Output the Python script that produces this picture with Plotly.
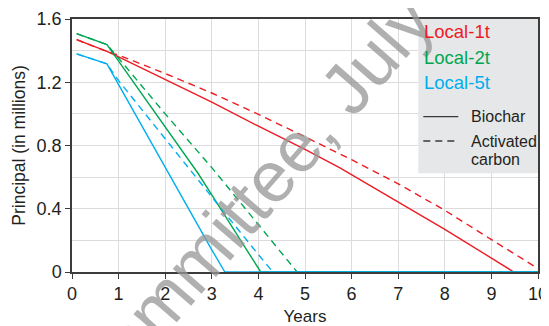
import plotly.graph_objects as go

# ---- data ----
x_1t_bio = [0.1, 0.75, 1, 2, 3, 4, 5, 5.75, 6, 7, 8, 9, 9.48, 10]
y_1t_bio = [1.469, 1.395, 1.36, 1.215, 1.075, 0.922, 0.775, 0.658, 0.615, 0.447, 0.27, 0.088, 0, 0]
x_1t_ac = [0.1, 0.75, 1, 2, 3, 4, 5, 6, 7, 8, 9, 10]
y_1t_ac = [1.469, 1.395, 1.372, 1.255, 1.132, 0.997, 0.855, 0.71, 0.558, 0.39, 0.205, 0.022]
x_2t_bio = [0.1, 0.75, 1, 2, 2.7, 3, 4.05, 10]
y_2t_bio = [1.507, 1.438, 1.334, 0.92, 0.626, 0.487, 0, 0]
x_2t_ac = [0.1, 0.75, 1, 2, 3, 4, 4.83, 10]
y_2t_ac = [1.507, 1.438, 1.352, 1.0, 0.66, 0.3, 0, 0]
x_5t_bio = [0.1, 0.75, 1, 2, 3, 3.28, 10]
y_5t_bio = [1.379, 1.316, 1.185, 0.66, 0.14, 0, 0]
x_5t_ac = [0.1, 0.75, 1, 2, 3, 4, 4.31, 10]
y_5t_ac = [1.379, 1.316, 1.21, 0.84, 0.475, 0.11, 0, 0]

series_names = ["Local-1t", "Local-2t", "Local-5t"]
series_colors = ["#ED1C24", "#00A651", "#00AEEF"]
type_names = ["Biochar", "Activated", "carbon"]
x_ticks = [0, 1, 2, 3, 4, 5, 6, 7, 8, 9, 10]
y_ticks = [0, 0.4, 0.8, 1.2, 1.6]
y_tick_labels = ["0", "0.4", "0.8", "1.2", "1.6"]
watermark = "Committee, July"

FONT = "Liberation Sans, Arial, sans-serif"
TXT = "#231f20"

fig = go.Figure()
data = [
    (x_1t_bio, y_1t_bio, x_1t_ac, y_1t_ac),
    (x_2t_bio, y_2t_bio, x_2t_ac, y_2t_ac),
    (x_5t_bio, y_5t_bio, x_5t_ac, y_5t_ac),
]
for (xb, yb, xa, ya), name, col in zip(data, series_names, series_colors):
    fig.add_trace(go.Scatter(x=xb, y=yb, mode="lines", name=name + " Biochar",
                             line=dict(color=col, width=1.4), showlegend=False))
    fig.add_trace(go.Scatter(x=xa, y=ya, mode="lines", name=name + " Activated carbon",
                             line=dict(color=col, width=1.4, dash="7px,5px"), showlegend=False))

# page has an 8px body margin: figure is offset by (8, 8) in the window
OFF = 8
W, H = 549 - OFF, 326 - OFF
# plot-area edges in window pixels
L, R, T, B = 72, 538, 19, 272
def px(xp):
    return (xp - L) / (R - L)
def py(yp):
    return (B - yp) / (B - T)

shapes = [
    dict(type="rect", xref="paper", yref="paper", x0=px(418.3), x1=1, y0=py(173.3), y1=1,
         fillcolor="#e6e7e8", line=dict(width=0), layer="above"),
    dict(type="line", xref="paper", yref="paper", x0=px(423.3), x1=px(458.3), y0=py(116.7), y1=py(116.7),
         line=dict(color="#3a3a3a", width=1.3), layer="above"),
    dict(type="line", xref="paper", yref="paper", x0=px(423.3), x1=px(458.3), y0=py(141), y1=py(141),
         line=dict(color="#3a3a3a", width=1.3, dash="7px,5px"), layer="above"),
]

annotations = [dict(text=watermark, xref="paper", yref="paper", x=px(249), y=py(201),
                    xanchor="center", yanchor="middle", showarrow=False, textangle=-49,
                    font=dict(family=FONT, size=72, color="rgba(150,150,150,0.75)"))]
for name, col, yc in zip(series_names, series_colors, [31.7, 57, 82.5]):
    annotations.append(dict(text=name, xref="paper", yref="paper", x=px(422.3), y=py(yc),
                            xanchor="left", yanchor="middle", showarrow=False,
                            font=dict(family=FONT, size=18.5, color=col)))
for txt, yc in zip(type_names, [116, 141, 159.5]):
    annotations.append(dict(text=txt, xref="paper", yref="paper", x=px(469), y=py(yc),
                            xanchor="left", yanchor="middle", showarrow=False,
                            font=dict(family=FONT, size=16, color=TXT)))

axis_common = dict(showline=True, linecolor="#3c3c3c", linewidth=1.5, mirror=True,
                   ticks="outside", ticklen=5, tickwidth=1.3, tickcolor="#3c3c3c",
                   gridcolor="#dcdcdc", gridwidth=1.3, zeroline=False, automargin=False,
                   tickfont=dict(family=FONT, size=18, color=TXT), layer="below traces")

fig.update_layout(
    width=W, height=H,
    margin=dict(l=L - OFF, r=549 - R, t=T - OFF, b=326 - B, autoexpand=False),
    paper_bgcolor="white", plot_bgcolor="white",
    shapes=shapes, annotations=annotations,
    xaxis=dict(range=[0, 10], tickvals=x_ticks, ticktext=[str(v) for v in x_ticks],
               title=dict(text="Years", font=dict(family=FONT, size=17, color=TXT), standoff=12),
               **axis_common),
    yaxis=dict(range=[0, 1.6], tickvals=y_ticks, ticktext=y_tick_labels,
               minor=dict(dtick=0.2, tick0=0, showgrid=True, gridcolor="#dcdcdc", gridwidth=1.3, ticks=""),
               title=dict(text="Principal (in millions)", font=dict(family=FONT, size=17.5, color=TXT), standoff=6),
               **axis_common),
)

fig.write_html("out.html")
